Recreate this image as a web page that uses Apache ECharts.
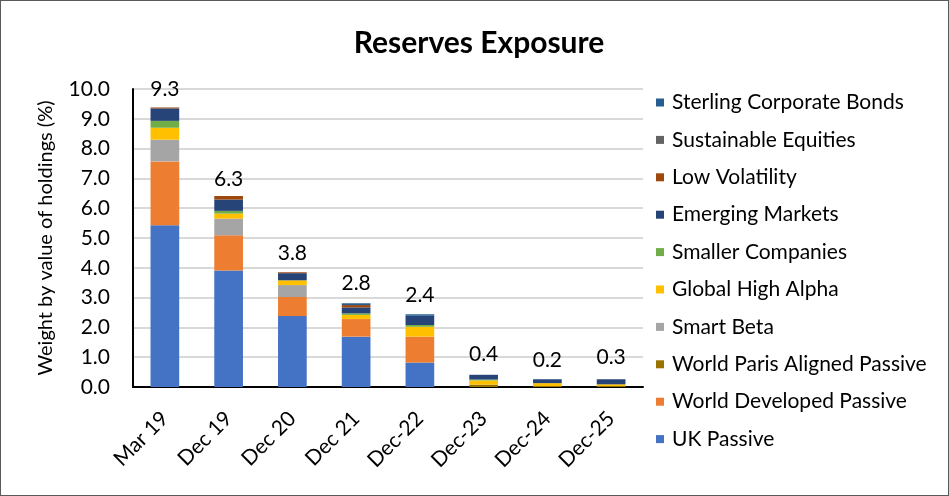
<!DOCTYPE html>
<html><head><meta charset="utf-8">
<script src="https://cdn.jsdelivr.net/npm/echarts@6/dist/echarts.min.js"></script>
<style>html,body{margin:0;padding:0;background:#fff}#c{width:949px;height:496px;box-sizing:border-box;border:1px solid #595959}</style>
</head><body><div id="c"></div>
<script>
const categories = ['Mar 19','Dec 19','Dec 20','Dec 21','Dec-22','Dec-23','Dec-24','Dec-25'];
const ukPassive       = [5.43, 3.91, 2.38, 1.69, 0.82, 0,    0,    0];
const worldDeveloped  = [2.14, 1.18, 0.64, 0.59, 0.87, 0,    0,    0];
const worldParis      = [0,    0,    0,    0,    0,    0.08, 0.03, 0.03];
const smartBeta       = [0.73, 0.56, 0.40, 0,    0,    0,    0,    0];
const globalHighAlpha = [0.40, 0.17, 0.16, 0.14, 0.33, 0.14, 0.10, 0.06];
const smallerCos      = [0.23, 0.09, 0,    0.05, 0.06, 0.03, 0,    0];
const emergingMkts    = [0.42, 0.38, 0.24, 0.20, 0.31, 0.16, 0.13, 0.17];
const lowVolatility   = [0.03, 0.12, 0.03, 0.08, 0,    0,    0,    0];
const sustainableEq   = [0,    0,    0,    0,    0,    0,    0,    0];
const sterlingBonds   = [0,    0,    0,    0.06, 0.05, 0,    0,    0];
const totals          = [9.3, 6.3, 3.8, 2.8, 2.4, 0.4, 0.2, 0.3];
const totalLabels     = ['9.3','6.3','3.8','2.8','2.4','0.4','0.2','0.3'];
const yTicks = [0,1,2,3,4,5,6,7,8,9,10];

const seriesDefs = [
  ['UK Passive', ukPassive, '#4472C4'],
  ['World Developed Passive', worldDeveloped, '#ED7D31'],
  ['World Paris Aligned Passive', worldParis, '#997300'],
  ['Smart Beta', smartBeta, '#A5A5A5'],
  ['Global High Alpha', globalHighAlpha, '#FFC000'],
  ['Smaller Companies', smallerCos, '#70AD47'],
  ['Emerging Markets', emergingMkts, '#264478'],
  ['Low Volatility', lowVolatility, '#9E480E'],
  ['Sustainable Equities', sustainableEq, '#636363'],
  ['Sterling Corporate Bonds', sterlingBonds, '#255E91']
];
const FONT = 'Lato, "Open Sans", sans-serif';
const chart = echarts.init(document.getElementById('c'));
const series = seriesDefs.map(([name, data, color]) => ({
  name, type: 'bar', stack: 'all', data, barWidth: '45%',
  itemStyle: {color}, emphasis: {disabled: true}
}));
series.push({
  name: 'Total', type: 'line', data: totals, symbol: 'circle', symbolSize: 0,
  lineStyle: {opacity: 0}, silent: true,
  label: {show: true, position: 'top', distance: 10, fontSize: 21, fontFamily: FONT, color: '#000',
    formatter: p => totalLabels[p.dataIndex]}
});
chart.setOption({
  animation: false,
  title: {text: 'Reserves Exposure', left: 473, top: 22, textAlign: 'center',
    textStyle: {fontSize: 30, fontWeight: 'bold', fontFamily: FONT, color: '#000'}},
  grid: {left: 132, right: 305, top: 88, bottom: 108},
  legend: {
    data: seriesDefs.map(s => s[0]).reverse(),
    orient: 'vertical', left: 650, top: 86, itemGap: 16.4,
    itemWidth: 8, itemHeight: 8, icon: 'rect',
    textStyle: {fontSize: 21, fontFamily: FONT, color: '#000', padding: [0,0,0,3]}
  },
  xAxis: {
    type: 'category', data: categories,
    axisLine: {lineStyle: {color: '#000', width: 2}},
    axisTick: {show: false},
    axisLabel: {rotate: 45, fontSize: 21, fontFamily: FONT, color: '#000', margin: 28}
  },
  yAxis: {
    type: 'value', min: 0, max: 10, interval: 1,
    name: 'Weight by value of holdings (%)', nameLocation: 'middle', nameGap: 77,
    nameTextStyle: {fontSize: 20, fontFamily: FONT, color: '#000'},
    axisLine: {show: true, lineStyle: {color: '#000', width: 2}},
    axisLabel: {fontSize: 21, fontFamily: FONT, color: '#000', margin: 23,
      formatter: v => yTicks.includes(v) ? v.toFixed(1) : ''},
    splitLine: {lineStyle: {color: '#D9D9D9', width: 2}}
  },
  series
});
</script></body></html>
